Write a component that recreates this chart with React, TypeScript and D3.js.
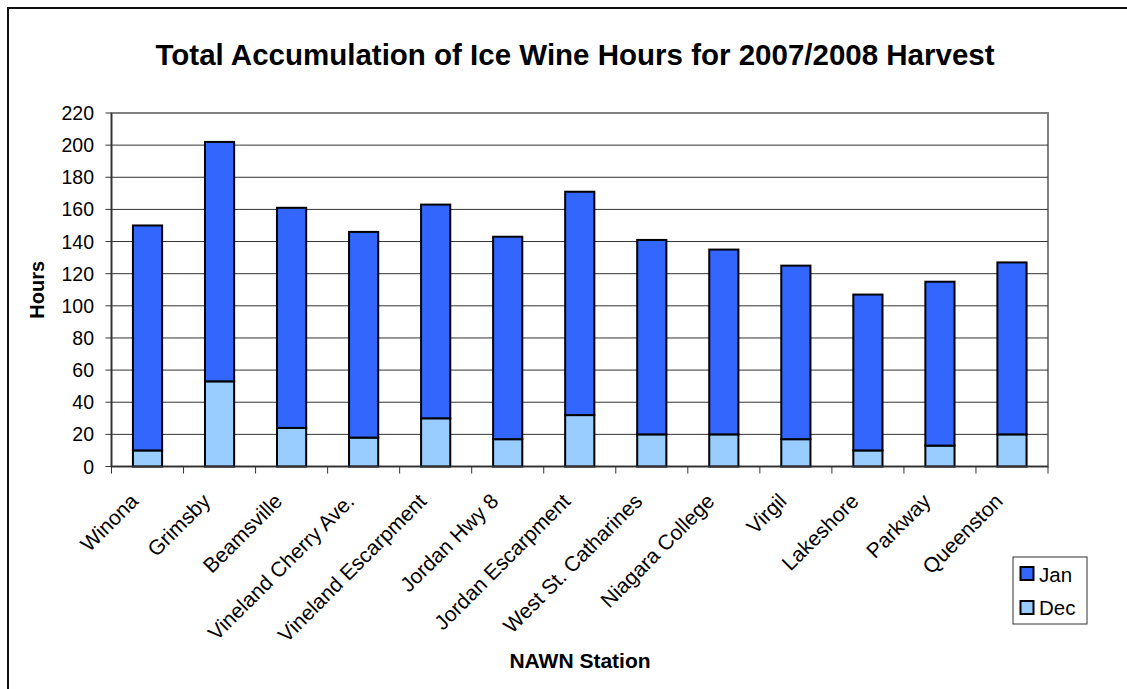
import React from "react";
import * as d3 from "d3";

const stations = [
  "Winona",
  "Grimsby",
  "Beamsville",
  "Vineland Cherry Ave.",
  "Vineland Escarpment",
  "Jordan Hwy 8",
  "Jordan Escarpment",
  "West St. Catharines",
  "Niagara College",
  "Virgil",
  "Lakeshore",
  "Parkway",
  "Queenston",
];
const decHours = [10, 53, 24, 18, 30, 17, 32, 20, 20, 17, 10, 13, 20];
const janHours = [140, 149, 137, 128, 133, 126, 139, 121, 115, 108, 97, 102, 107];
const yTicks = [0, 20, 40, 60, 80, 100, 120, 140, 160, 180, 200, 220];

const W = 1127;
const H = 689;
const left = 111.5;
const right = 1048;
const top = 113;
const bottom = 466.5;
const font = "Liberation Sans, Arial, sans-serif";
const JAN = "#3366FF";
const DEC = "#99CCFF";

export default function App() {
  const x = d3.scaleBand<string>().domain(stations).range([left, right]);
  const y = d3.scaleLinear().domain([0, 220]).range([bottom, top]);
  const bw = x.bandwidth() * 0.405;

  return (
    <svg width={W} height={H} style={{ position: "absolute", left: 0, top: 0 }} fontFamily={font}>
      <rect x={0} y={0} width={W} height={H} fill="#fff" />
      <rect x={8} y={8} width={W + 20} height={H + 20} fill="none" stroke="#111" strokeWidth={2} />
      <text x={575} y={65} textAnchor="middle" fontSize={29.5} fontWeight="bold">
        Total Accumulation of Ice Wine Hours for 2007/2008 Harvest
      </text>
      {/* plot area border */}
      <rect x={left} y={top} width={right - left} height={bottom - top} fill="none" stroke="#808080" strokeWidth={2} />
      {/* gridlines */}
      {yTicks.filter((t) => t > 0 && t < 220).map((t) => (
        <line key={t} x1={left} x2={right} y1={y(t)} y2={y(t)} stroke="#333" strokeWidth={1} />
      ))}
      {/* y axis */}
      <line x1={left} x2={left} y1={top} y2={bottom} stroke="#333" strokeWidth={1.5} />
      {yTicks.map((t) => (
        <g key={t}>
          <line x1={left - 6} x2={left} y1={y(t)} y2={y(t)} stroke="#333" strokeWidth={1} />
          <text x={94} y={y(t)} dy="0.36em" textAnchor="end" fontSize={19.5}>
            {t}
          </text>
        </g>
      ))}
      <text transform={`translate(44,${(top + bottom) / 2}) rotate(-90)`} textAnchor="middle" fontSize={20} fontWeight="bold">
        Hours
      </text>
      {/* bars */}
      {stations.map((s, i) => {
        const cx = (x(s) as number) + x.bandwidth() / 2;
        const total = decHours[i] + janHours[i];
        return (
          <g key={s}>
            <rect x={cx - bw / 2} y={y(decHours[i])} width={bw} height={y(0) - y(decHours[i])} fill={DEC} stroke="#000" strokeWidth={2} />
            <rect x={cx - bw / 2} y={y(total)} width={bw} height={y(decHours[i]) - y(total)} fill={JAN} stroke="#000" strokeWidth={2} />
          </g>
        );
      })}
      {/* x axis */}
      <line x1={left} x2={right} y1={bottom} y2={bottom} stroke="#333" strokeWidth={1.5} />
      {stations.map((s) => (
        <line key={s} x1={x(s) as number} x2={x(s) as number} y1={bottom} y2={bottom + 7} stroke="#333" strokeWidth={1} />
      ))}
      <line x1={right} x2={right} y1={bottom} y2={bottom + 7} stroke="#333" strokeWidth={1} />
      {stations.map((s) => {
        const cx = (x(s) as number) + x.bandwidth() / 2;
        return (
          <text key={s} transform={`translate(${cx - 8},${bottom + 36}) rotate(-45)`} textAnchor="end" fontSize={21}>
            {s}
          </text>
        );
      })}
      <text x={580} y={668} textAnchor="middle" fontSize={21} fontWeight="bold">
        NAWN Station
      </text>
      {/* legend */}
      <rect x={1013} y={557} width={74} height={67} fill="#fff" stroke="#333" strokeWidth={1} />
      <rect x={1020.5} y={567} width={13} height={13} fill={JAN} stroke="#000" strokeWidth={2} />
      <text x={1039} y={581.5} fontSize={20.5}>Jan</text>
      <rect x={1020.5} y={601} width={13} height={13} fill={DEC} stroke="#000" strokeWidth={2} />
      <text x={1039} y={615} fontSize={20.5}>Dec</text>
    </svg>
  );
}
